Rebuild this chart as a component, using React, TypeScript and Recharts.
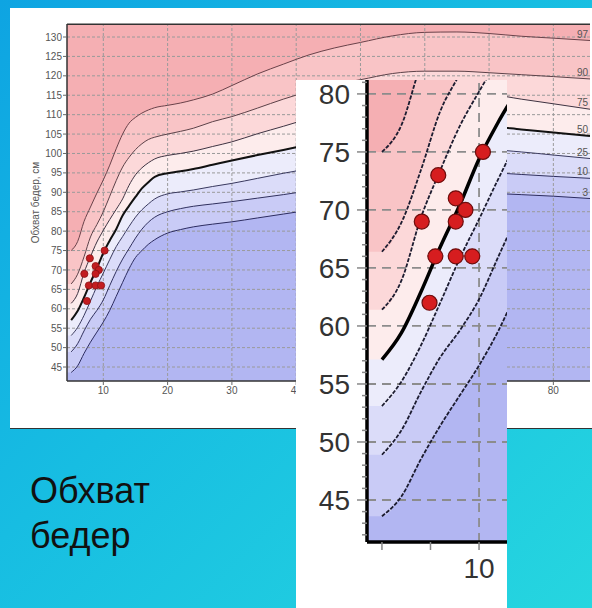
import React from 'react';
import {
  ComposedChart,
  Area,
  Line,
  Scatter,
  XAxis,
  YAxis,
  CartesianGrid,
  ReferenceLine,
  LabelList,
} from 'recharts';

// age (years) and hip circumference percentiles (cm)
const AGES = [5, 6, 7, 8, 9, 10, 11, 12, 13, 14, 15, 16, 17, 18, 20, 22, 24, 27, 30, 34, 38, 42, 46, 50, 55, 60, 65, 70, 75, 80, 85.7];
const P97 = [75, 77.3, 82.5, 86.2, 89.8, 93.2, 97, 101.2, 105, 107.8, 109.3, 110.4, 111.2, 111.8, 112.4, 113, 113.8, 115.3, 117.5, 120.5, 123, 125.4, 127.2, 128.6, 130.3, 131.2, 131.3, 130.9, 130.2, 129.7, 129.1];
const P90 = [66.4, 68.9, 73.4, 78.5, 81.7, 85, 89, 93, 96.5, 99, 101, 102.5, 103.6, 104.2, 105, 105.7, 106.5, 108.2, 109.5, 111.7, 114, 116, 117.8, 119, 120.6, 121.2, 121.2, 120.8, 120.3, 119.8, 119.2];
const P75 = [61.4, 63.9, 69.3, 73.4, 77.2, 80.2, 83, 85.6, 88.3, 91.8, 94.5, 96.3, 97.6, 98.6, 99.5, 100, 100.6, 101.8, 103, 105.1, 107, 109, 111, 112.8, 114.5, 115.6, 115.8, 115.3, 114, 112.8, 111.4];
const P50 = [57.1, 59.4, 62.9, 66.8, 70.4, 74.4, 77.6, 80.5, 84, 86.5, 88.8, 91, 92.6, 94, 94.9, 95.4, 96, 97.1, 98.2, 99.6, 100.9, 102.3, 103.6, 104.8, 106, 107, 107.4, 107, 106.2, 105.4, 104.5];
const P25 = [53.1, 55.2, 58.3, 62, 65.8, 69.2, 72.7, 76, 78.6, 81.2, 83.6, 85.5, 87, 88.3, 89.6, 90.1, 90.6, 91.5, 92.3, 93.6, 94.9, 96.1, 97.3, 98.4, 99.6, 100.6, 101.1, 101, 100.4, 99.6, 98.7];
const P10 = [48.9, 51, 54.3, 57.3, 59.6, 62.3, 66, 69.6, 72.8, 75.5, 78.2, 80.5, 82.3, 83.6, 85, 85.8, 86.4, 87, 87.6, 88.5, 89.4, 90.4, 91.4, 92.4, 93.5, 94.4, 95, 95, 94.6, 94.1, 93.6];
const P3 = [43.6, 45.3, 48.5, 51.4, 54, 56.6, 59.6, 63.2, 66.8, 70.3, 73.2, 75, 76.6, 77.8, 79.5, 80.4, 81.1, 81.8, 82.4, 83.4, 84.4, 85.4, 86.3, 87.2, 88.2, 89, 89.5, 89.7, 89.4, 89, 88.4];

const PERCENTILE_NAMES = ['97', '90', '75', '50', '25', '10', '3'];

// the colour bands reach the left edge of the plot, the curves start at 5 years
const FILL_START_AGE = 4.2;

// measurements of the child
const CHILD_AGE = [10.2, 7.9, 8.8, 9.3, 7.05, 8.8, 7.75, 8.8, 9.65, 7.45];
const CHILD_HIP = [75, 73, 71, 70, 69, 69, 66, 66, 66, 62];

const MAIN_X_TICKS = [10, 20, 30, 40, 50, 60, 70, 80];
const MAIN_Y_TICKS = [45, 50, 55, 60, 65, 70, 75, 80, 85, 90, 95, 100, 105, 110, 115, 120, 125, 130];
const INSET_X_TICKS = [5, 7.5, 10];
const INSET_Y_TICKS = [42, 43, 44, 45, 46, 47, 48, 49, 50, 51, 52, 53, 54, 55, 56, 57, 58, 59, 60, 61, 62, 63, 64, 65, 66, 67, 68, 69, 70, 71, 72, 73, 74, 75, 76, 77, 78, 79, 80, 81];
const INSET_GRID_Y = [45, 50, 55, 60, 65, 70, 75, 80];

const KEYS = ['p97', 'p90', 'p75', 'p50', 'p25', 'p10', 'p3'];
const CURVES = [P97, P90, P75, P50, P25, P10, P3];

const ABOVE_FILL = '#f5afb3';
const BAND_FILLS = ['#f9c4c6', '#fcd8d9', '#fdecec', '#ececfb', '#dbdcf9', '#c9cbf6', '#b2b6f2'];
const LINE_COLORS = ['#6a424a', '#5c4249', '#3e3342', '#111111', '#38385e', '#30305e', '#2c2c60'];
const FONT = '"Liberation Sans", Arial, sans-serif';

const rows: Record<string, number | null>[] = [
  (() => {
    const r: Record<string, number | null> = { age: FILL_START_AGE };
    KEYS.forEach((k, j) => {
      r[k] = null;
      r['f' + k] = CURVES[j][0];
    });
    return r;
  })(),
  ...AGES.map((age, i) => {
    const r: Record<string, number | null> = { age };
    KEYS.forEach((k, j) => {
      r[k] = CURVES[j][i];
      r['f' + k] = CURVES[j][i];
    });
    return r;
  }),
];

const points = CHILD_AGE.map((age, i) => ({ age, hip: CHILD_HIP[i] }));

const endLabel = (name: string) => (props: any) => {
  if (props.index !== AGES.length) return null;
  return (
    <text
      x={Number(props.x) - 2}
      y={Number(props.y) - 3}
      textAnchor="end"
      fontSize={10}
      fill="#555"
      fontFamily={FONT}
    >
      {name}
    </text>
  );
};

function MainChart() {
  return (
    <ComposedChart
      width={582}
      height={420}
      data={rows}
      margin={{ top: 16, right: 2, bottom: 0, left: 0 }}
      style={{ fontFamily: FONT }}
    >
      <CartesianGrid horizontal={false} vertical={false} fill={ABOVE_FILL} fillOpacity={1} />
      <XAxis
        type="number"
        dataKey="age"
        domain={[4.35, 85.7]}
        ticks={MAIN_X_TICKS}
        interval={0}
        allowDataOverflow
        height={47}
        tickSize={4}
        tick={{ fontSize: 10, fill: '#555' }}
        tickLine={{ stroke: '#666' }}
        axisLine={{ stroke: '#333', strokeWidth: 1.5 }}
      />
      <YAxis
        type="number"
        domain={[41.4, 133.35]}
        ticks={MAIN_Y_TICKS}
        interval={0}
        allowDataOverflow
        width={57}
        tickSize={4}
        tickMargin={1}
        tick={{ fontSize: 10, fill: '#555' }}
        tickLine={{ stroke: '#666' }}
        axisLine={{ stroke: '#333', strokeWidth: 1.5 }}
        label={{
          value: 'Обхват бедер, см',
          angle: -90,
          position: 'insideLeft',
          offset: 25,
          fontSize: 10,
          fill: '#555',
          style: { textAnchor: 'middle' },
        }}
      />
      {KEYS.map((k, i) => (
        <Area
          key={k}
          dataKey={'f' + k}
          type="monotone"
          baseValue="dataMin"
          fill={BAND_FILLS[i]}
          fillOpacity={1}
          stroke="none"
          isAnimationActive={false}
        />
      ))}
      {MAIN_Y_TICKS.map((v) => (
        <ReferenceLine key={'h' + v} y={v} stroke="#9a9a9a" strokeDasharray="3 2" />
      ))}
      {MAIN_X_TICKS.map((v) => (
        <ReferenceLine key={'v' + v} x={v} stroke="#9a9a9a" strokeDasharray="3 2" />
      ))}
      <ReferenceLine y={133.3} stroke="#333" strokeWidth={1.5} />
      {KEYS.map((k, i) => (
        <Line
          key={'l' + k}
          dataKey={k}
          type="monotone"
          stroke={LINE_COLORS[i]}
          strokeWidth={k === 'p50' ? 2 : 1}
          dot={false}
          activeDot={false}
          isAnimationActive={false}
        >
          <LabelList dataKey={k} content={endLabel(PERCENTILE_NAMES[i])} />
        </Line>
      ))}
      <Scatter
        data={points}
        dataKey="hip"
        isAnimationActive={false}
        shape={(p: any) => (
          <circle cx={p.cx} cy={p.cy} r={3.6} fill="#c31c20" stroke="#8a1215" strokeWidth={0.8} />
        )}
      />
    </ComposedChart>
  );
}

const InsetYTick = (props: any) => {
  const { x, y, payload } = props;
  const major = payload.value % 5 === 0;
  return (
    <g>
      <line x1={x - (major ? 10 : 5)} x2={x} y1={y} y2={y} stroke="#888" strokeWidth={1.5} />
      {major && (
        <text x={x - 17} y={y} dy={10} textAnchor="end" fontSize={28} fill="#333" fontFamily={FONT}>
          {payload.value}
        </text>
      )}
    </g>
  );
};

const InsetXTick = (props: any) => {
  const { x, y, payload } = props;
  return (
    <g>
      <line x1={x} x2={x} y1={y} y2={y + 8} stroke="#888" strokeWidth={1.5} />
      {payload.value === 10 && (
        <text x={x} y={y + 36} textAnchor="middle" fontSize={28} fill="#333" fontFamily={FONT}>
          {payload.value}
        </text>
      )}
    </g>
  );
};

function InsetChart() {
  return (
    <ComposedChart
      width={211}
      height={528}
      data={rows}
      margin={{ top: 0, right: 0, bottom: 0, left: 0 }}
    >
      <CartesianGrid horizontal={false} vertical={false} fill={ABOVE_FILL} fillOpacity={1} />
      <XAxis
        type="number"
        dataKey="age"
        domain={[4.23, 11.44]}
        ticks={INSET_X_TICKS}
        interval={0}
        allowDataOverflow
        height={66}
        tickSize={0}
        tickMargin={0}
        tickLine={false}
        tick={<InsetXTick />}
        axisLine={{ stroke: '#000', strokeWidth: 3.5 }}
      />
      <YAxis
        type="number"
        domain={[41.38, 81.2]}
        ticks={INSET_Y_TICKS}
        interval={0}
        allowDataOverflow
        width={71}
        tickSize={0}
        tickMargin={0}
        tickLine={false}
        tick={<InsetYTick />}
        axisLine={{ stroke: '#000', strokeWidth: 3.5 }}
      />
      {KEYS.map((k, i) => (
        <Area
          key={k}
          dataKey={'f' + k}
          type="monotone"
          baseValue="dataMin"
          fill={BAND_FILLS[i]}
          fillOpacity={1}
          stroke="none"
          isAnimationActive={false}
        />
      ))}
      {INSET_GRID_Y.map((v) => (
        <ReferenceLine key={'h' + v} y={v} stroke="#8c8c8c" strokeWidth={1.8} strokeDasharray="9 6" />
      ))}
      <ReferenceLine x={10} stroke="#8c8c8c" strokeWidth={1.8} strokeDasharray="9 6" />
      {KEYS.map((k, i) => (
        <Line
          key={'l' + k}
          dataKey={k}
          type="monotone"
          stroke={k === 'p50' ? '#000' : '#1c1c30'}
          strokeWidth={k === 'p50' ? 3.5 : 1.8}
          strokeDasharray={k === 'p50' ? undefined : '4 1.5'}
          dot={false}
          activeDot={false}
          isAnimationActive={false}
        />
      ))}
      <Scatter
        data={points}
        dataKey="hip"
        isAnimationActive={false}
        shape={(p: any) => (
          <circle cx={p.cx} cy={p.cy} r={7.5} fill="#d61d1f" stroke="#6e0c0c" strokeWidth={1.2} />
        )}
      />
    </ComposedChart>
  );
}

export default function App() {
  return (
    <div
      style={{
        position: 'fixed',
        left: 0,
        top: 0,
        width: 592,
        height: 608,
        overflow: 'hidden',
        background: 'linear-gradient(135deg, #0ea4e2 0%, #17bde2 45%, #26d6df 100%)',
        fontFamily: FONT,
      }}
    >
      <div
        style={{
          position: 'absolute',
          left: 10,
          top: 8,
          width: 582,
          height: 420,
          background: '#fff',
          borderBottom: '1px solid #333',
        }}
      >
        <MainChart />
      </div>
      <div
        style={{
          position: 'absolute',
          left: 30,
          top: 468,
          fontSize: 36,
          lineHeight: '45px',
          color: '#111',
        }}
      >
        Обхват
        <br />
        бедер
      </div>
      <div
        style={{
          position: 'absolute',
          left: 296,
          top: 80,
          width: 211,
          height: 528,
          background: '#fff',
        }}
      >
        <InsetChart />
      </div>
    </div>
  );
}
